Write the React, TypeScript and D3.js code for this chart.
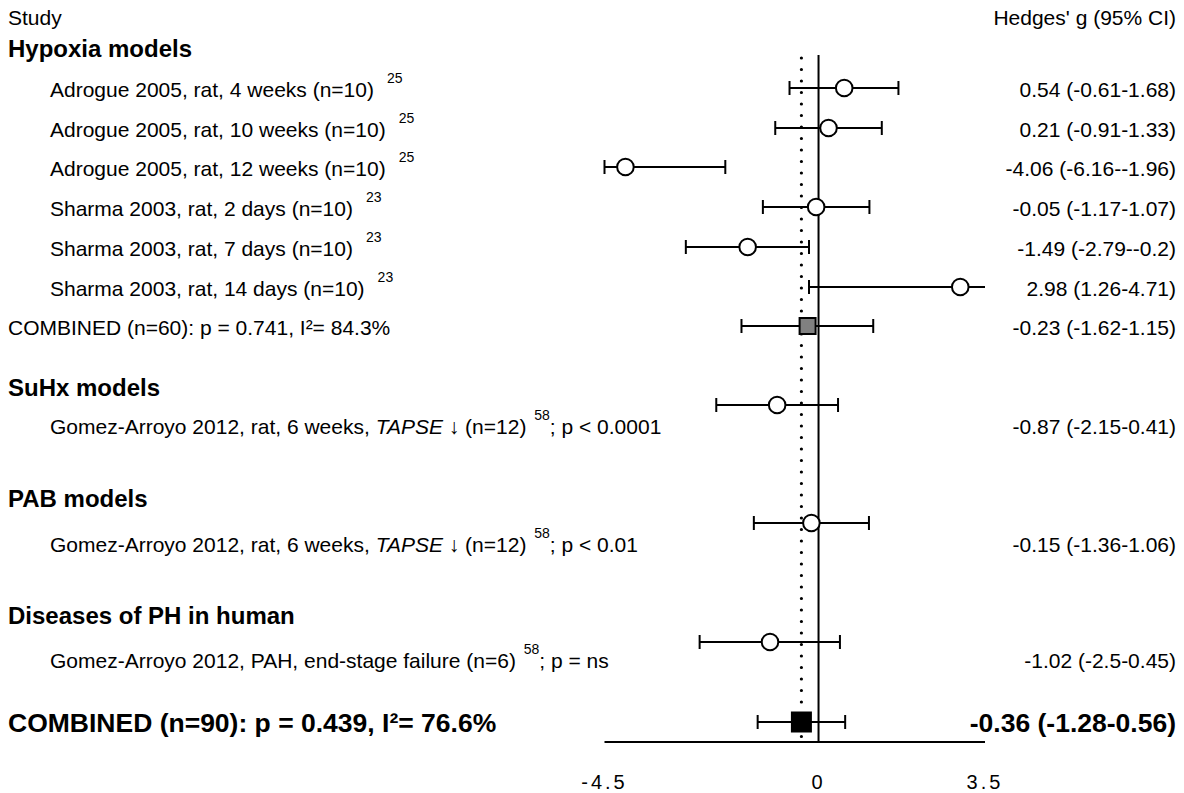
import React from "react";
import * as d3 from "d3";

const studyLabels = [
  "Adrogue 2005, rat, 4 weeks (n=10)",
  "Adrogue 2005, rat, 10 weeks (n=10)",
  "Adrogue 2005, rat, 12 weeks (n=10)",
  "Sharma 2003, rat, 2 days (n=10)",
  "Sharma 2003, rat, 7 days (n=10)",
  "Sharma 2003, rat, 14 days (n=10)",
];
const studyRefs = ["25", "25", "25", "23", "23", "23"];
const studyG = [0.54, 0.21, -4.06, -0.05, -1.49, 2.98];
const studyLo = [-0.61, -0.91, -6.16, -1.17, -2.79, -0.2];
const studyHi = [1.68, 1.33, -1.96, 1.07, -0.2, 4.71];
const studyCI = [
  "0.54 (-0.61-1.68)",
  "0.21 (-0.91-1.33)",
  "-4.06 (-6.16--1.96)",
  "-0.05 (-1.17-1.07)",
  "-1.49 (-2.79--0.2)",
  "2.98 (1.26-4.71)",
];

const hypoxiaCombined = { g: -0.23, lo: -1.62, hi: 1.15, label: "COMBINED (n=60): p = 0.741, I²= 84.3%", ci: "-0.23 (-1.62-1.15)" };

const singleHeaders = ["SuHx models", "PAB models", "Diseases of PH in human"];
const singlePrefix = [
  "Gomez-Arroyo 2012, rat, 6 weeks, ",
  "Gomez-Arroyo 2012, rat, 6 weeks, ",
  "Gomez-Arroyo 2012, PAH, end-stage failure (n=6) ",
];
const singleItalic = ["TAPSE", "TAPSE", ""];
const singleMid = [" ↓  (n=12) ", " ↓  (n=12) ", ""];
const singleRef = ["58", "58", "58"];
const singleSuffix = [";  p < 0.0001", ";  p < 0.01", ";  p = ns"];
const singleG = [-0.87, -0.15, -1.02];
const singleLo = [-2.15, -1.36, -2.5];
const singleHi = [0.41, 1.06, 0.45];
const singleCI = ["-0.87 (-2.15-0.41)", "-0.15 (-1.36-1.06)", "-1.02 (-2.5-0.45)"];

const overall = { g: -0.36, lo: -1.28, hi: 0.56, label: "COMBINED (n=90): p = 0.439, I²= 76.6%", ci: "-0.36 (-1.28-0.56)" };

const axisTicks = [-4.5, 0, 3.5];
const axisTickLabels = ["-4.5", "0", "3.5"];

// layout (pixel rows)
const studyY = [88, 128, 167, 207, 247, 287];
const hypCombY = 326;
const singleY = [405, 523, 642];
const singleHeaderBase = [396, 507, 624];
const singleTextBase = [434, 552, 668];
const overallY = 722;
const axisY = 742;

const FONT = "Liberation Sans, Arial, Helvetica, sans-serif";
const FS = 21;

export default function App() {
  const x = d3.scaleLinear().domain([-4.5, 3.5]).range([604.5, 985]);
  const clip = (v: number) => Math.max(-4.5, Math.min(3.5, v));
  const capH = 7;
  const SW = 2;

  const errBar = (lo: number, hi: number, y: number, key: string) => {
    const x1 = x(clip(lo));
    const x2 = x(clip(hi));
    const rightCap = hi <= 3.5;
    return (
      <g key={key} stroke="#000" strokeWidth={SW}>
        <line x1={x1} x2={x2} y1={y} y2={y} />
        <line x1={x1} x2={x1} y1={y - capH} y2={y + capH} />
        {rightCap && <line x1={x2} x2={x2} y1={y - capH} y2={y + capH} />}
      </g>
    );
  };

  return (
    <svg width={1184} height={793} style={{ display: "block", position: "absolute", left: 0, top: 0, whiteSpace: "pre" }} fontFamily={FONT}>
      <rect width={1184} height={793} fill="#fff" />
      <text x={8} y={25} fontSize={FS}>Study</text>
      <text x={1176} y={25} fontSize={FS} textAnchor="end">Hedges' g (95% CI)</text>

      <text x={8} y={57} fontSize={24} fontWeight="bold">Hypoxia models</text>

      {/* reference lines */}
      <line x1={x(0)} x2={x(0)} y1={55} y2={axisY} stroke="#000" strokeWidth={SW} />
      <line x1={x(overall.g)} x2={x(overall.g)} y1={58} y2={738} stroke="#000" strokeWidth={3.2} strokeDasharray="0 11.5" strokeLinecap="round" />

      {studyLabels.map((lab, i) => (
        <g key={"s" + i}>
          <text x={50} y={studyY[i] + 9} fontSize={FS}>
            {lab}
            <tspan dx={13} dy={-14} fontSize={14}>{studyRefs[i]}</tspan>
          </text>
          <text x={1176} y={studyY[i] + 9} fontSize={FS} textAnchor="end">{studyCI[i]}</text>
          {errBar(studyLo[i], studyHi[i], studyY[i], "e" + i)}
          <circle cx={x(studyG[i])} cy={studyY[i]} r={8.3} fill="#fff" stroke="#000" strokeWidth={SW} />
        </g>
      ))}

      <text x={8} y={hypCombY + 9} fontSize={FS}>{hypoxiaCombined.label}</text>
      <text x={1176} y={hypCombY + 9} fontSize={FS} textAnchor="end">{hypoxiaCombined.ci}</text>
      {errBar(hypoxiaCombined.lo, hypoxiaCombined.hi, hypCombY, "hc")}
      <rect x={x(hypoxiaCombined.g) - 8} y={hypCombY - 8} width={16} height={16} fill="#808080" stroke="#000" strokeWidth={SW} />

      {singleHeaders.map((h, i) => (
        <g key={"h" + i}>
          <text x={8} y={singleHeaderBase[i]} fontSize={24} fontWeight="bold">{h}</text>
          <text x={50} y={singleTextBase[i]} fontSize={FS}>
            {singlePrefix[i]}
            {singleItalic[i] && <tspan fontStyle="italic">{singleItalic[i]}</tspan>}
            {singleMid[i]}
            <tspan dx={2} dy={-14} fontSize={14}>{singleRef[i]}</tspan>
            <tspan dy={14}>{singleSuffix[i]}</tspan>
          </text>
          <text x={1176} y={singleTextBase[i]} fontSize={FS} textAnchor="end">{singleCI[i]}</text>
          {errBar(singleLo[i], singleHi[i], singleY[i], "se" + i)}
          <circle cx={x(singleG[i])} cy={singleY[i]} r={8.3} fill="#fff" stroke="#000" strokeWidth={SW} />
        </g>
      ))}

      <text x={8} y={overallY + 10} fontSize={26.5} fontWeight="bold">{overall.label}</text>
      <text x={1176} y={overallY + 10} fontSize={26.5} fontWeight="bold" textAnchor="end">{overall.ci}</text>
      {errBar(overall.lo, overall.hi, overallY, "ov")}
      <rect x={x(overall.g) - 10.5} y={overallY - 10.5} width={21} height={21} fill="#000" />

      <line x1={x(-4.5)} x2={x(3.5)} y1={axisY} y2={axisY} stroke="#000" strokeWidth={SW} />
      {axisTicks.map((t, i) => (
        <text key={"t" + i} x={x(t)} y={789} fontSize={20} textAnchor="middle" letterSpacing={3}>{axisTickLabels[i]}</text>
      ))}
    </svg>
  );
}
